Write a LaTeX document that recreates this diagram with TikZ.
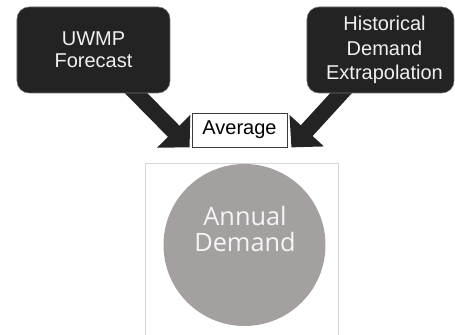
\documentclass[tikz,border=0pt]{standalone}
\usepackage{fontspec}
\setmainfont{Liberation Sans}
\newfontfamily\circfont{Open Sans}
\usetikzlibrary{arrows.meta,backgrounds}

\tikzset{
  srcbox/.style={draw={rgb, 255:red, 110; green, 110; blue, 110 }, fill={rgb, 255:red, 35; green, 35; blue, 35 }, rounded corners=9pt, text={rgb, 255:red, 240; green, 240; blue, 240 }, align=center, font=\fontsize{15}{16.5}\selectfont, inner sep=0pt},
  avgbox/.style={draw={rgb, 255:red, 60; green, 60; blue, 60 }, fill=white, font=\fontsize{15}{17}\selectfont, inner sep=0pt, line width=0.6pt},
  bigarrow/.style={draw={rgb, 255:red, 35; green, 35; blue, 35 }, line width=12pt, -{Triangle[length=17pt,width=34pt]}}
}

\begin{document}
\begin{tikzpicture}[x=0.75pt,y=0.75pt,yscale=-1,xscale=1]
\path[use as bounding box] (0,0) rectangle (455,335);

%Shape: Panel behind the circle
\draw [color={rgb, 255:red, 215; green, 215; blue, 215 }, line width=0.6pt] (145,335) -- (145,163) -- (338,163) -- (338,335) ;

%Rounded Rect: left source
\node[srcbox, minimum width=114.75pt, minimum height=64.5pt] (uwmp) at (93.5,50) {UWMP\\Forecast};
%Rounded Rect: right source
\node[srcbox, minimum width=110.25pt, minimum height=64.5pt, font=\fontsize{15}{18.5}\selectfont] (hist) at (380.5,50) {\hspace*{6pt}Historical\\\hspace*{6pt}Demand\\\hspace*{6pt}Extrapolation};

%Text Node: average
\node[avgbox, minimum width=71.25pt, minimum height=25.5pt] (avg) at (239.5,130) {Average};

%Shape: Circle
\node[circle, fill={rgb, 255:red, 164; green, 160; blue, 160 }, minimum size=121.5pt, inner sep=0pt] (demand) at (244.5,245) {};
\node[text={rgb, 255:red, 245; green, 245; blue, 245 }, font=\circfont\fontsize{19}{19.5}\selectfont, align=center, inner sep=0pt] (demandtxt) at (245,229) {Annual\\Demand};

%Block Arrows
\begin{scope}[on background layer]
\draw[bigarrow] (uwmp.center) -- ([xshift=-1.5pt]avg.south west);
\draw[bigarrow] (hist.center) -- ([xshift=3pt]avg.south east);
\end{scope}

\end{tikzpicture}
\end{document}
